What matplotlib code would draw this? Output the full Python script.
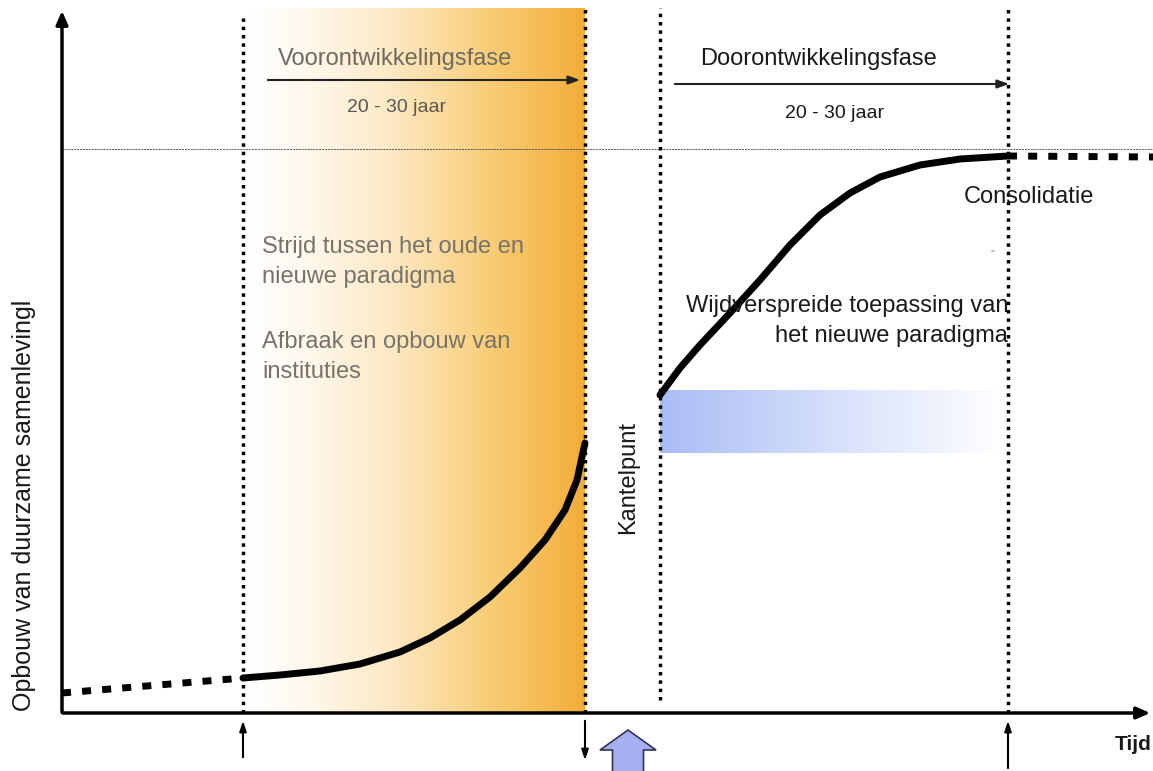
import numpy as np
import matplotlib
matplotlib.use("Agg")
import matplotlib.pyplot as plt
from matplotlib.colors import LinearSegmentedColormap

# coordinates are in picture units: x from left, y from bottom (0..771)
H = 771
fase_x = [243, 585, 660, 1008]          # dotted phase borders
plateau_y = H - 149

pre_x = [62, 243]
pre_y = [H - 693, H - 678]
rise1_x = [243, 280, 320, 360, 400, 430, 460, 490, 520, 545, 565, 577, 585]
rise1_y = [H - v for v in [678, 675, 671, 664, 652, 638, 620, 597, 568, 540, 510, 480, 443]]
rise2_x = [660, 680, 700, 730, 760, 790, 820, 850, 880, 920, 960, 1008]
rise2_y = [H - v for v in [395, 368, 345, 313, 280, 245, 215, 193, 177, 165, 159, 156]]
post_x = [1008, 1153]
post_y = [H - 156, H - 157]

plt.rcParams['font.family'] = ['Liberation Sans', 'DejaVu Sans']

fig = plt.figure(figsize=(11.53, 7.71), dpi=100)
ax = fig.add_axes([0, 0, 1, 1])
ax.set_xlim(0, 1153)
ax.set_ylim(0, H)
ax.axis('off')

# orange gradient band
orange = LinearSegmentedColormap.from_list("or", ["#ffffff", "#fde9c4", "#f9cc74", "#f2ad38"])
grad = np.linspace(0, 1, 256) ** 1.3
ax.imshow(grad[None, :], cmap=orange, aspect='auto', extent=(243, 585, H - 713, H - 8), zorder=0)

# blue gradient band
blue = LinearSegmentedColormap.from_list("bl", ["#a9bcf5", "#d6e0fb", "#ffffff"])
ax.imshow(np.linspace(0, 1, 256)[None, :], cmap=blue, aspect='auto', extent=(660, 1005, H - 453, H - 390), zorder=0)

# axes
ax.annotate("", xy=(62, H - 8), xytext=(62, H - 715),
            arrowprops=dict(arrowstyle="-|>,head_length=0.8,head_width=0.35", lw=2.5, color="black"))
ax.annotate("", xy=(1153, H - 713), xytext=(60, H - 713),
            arrowprops=dict(arrowstyle="-|>,head_length=0.8,head_width=0.35", lw=2.5, color="black"))

# plateau line
ax.plot([62, 1153], [plateau_y, plateau_y], color="#555555", lw=0.7, ls=(0, (2, 1)), zorder=1)

# phase borders
tops = [H - 18, H - 8, H - 8, H - 8]
bottoms = [H - 713, H - 713, H - 700, H - 713]
for x, t, b in zip(fase_x, tops, bottoms):
    ax.plot([x, x], [b, t], color="black", lw=2.5, ls=(0, (1, 1.4)), zorder=2)

# the curve
ax.plot(pre_x, pre_y, color="black", lw=5, ls=(0, (1.3, 1.6)), solid_capstyle='butt', zorder=3)
ax.plot(rise1_x, rise1_y, color="black", lw=5, solid_capstyle='round', zorder=3)
ax.plot(rise2_x, rise2_y, color="black", lw=5, solid_capstyle='round', zorder=3)
ax.plot(post_x, post_y, color="black", lw=5, ls=(0, (1.3, 1.6)), solid_capstyle='butt', zorder=3)

# phase arrows
ax.annotate("", xy=(583, H - 80), xytext=(265, H - 80),
            arrowprops=dict(arrowstyle="-|>,head_length=0.7,head_width=0.25", lw=1.5, color="#222222"))
ax.annotate("", xy=(1012, H - 84), xytext=(672, H - 84),
            arrowprops=dict(arrowstyle="-|>,head_length=0.7,head_width=0.25", lw=1.5, color="#222222"))

ax.text(395, H - 59, "Voorontwikkelingsfase", fontsize=17, color="#6e6a60", ha='center', va='center')
ax.text(397, H - 108, "20 - 30 jaar", fontsize=14, color="#5a5650", ha='center', va='center')
ax.text(818, H - 59, "Doorontwikkelingsfase", fontsize=17, color="#1a1a1a", ha='center', va='center')
ax.text(835, H - 113, "20 - 30 jaar", fontsize=14, color="#1a1a1a", ha='center', va='center')

ax.text(262, H - 262, "Strijd tussen het oude en\nnieuwe paradigma", fontsize=17, color="#77736b",
        ha='left', va='center', linespacing=1.45)
ax.text(262, H - 357, "Afbraak en opbouw van\ninstituties", fontsize=17, color="#77736b",
        ha='left', va='center', linespacing=1.45)

ax.text(1008, H - 321, "Wijdverspreide toepassing van\nhet nieuwe paradigma", fontsize=17, color="#1a1a1a",
        ha='right', va='center', linespacing=1.45)
ax.text(1029, H - 197, "Consolidatie", fontsize=17, color="#1a1a1a", ha='center', va='center')
ax.text(992, H - 255, "\u201d", fontsize=8, color="#777777", ha='center', va='center')
ax.text(628, H - 478, "Kantelpunt", fontsize=17, color="#1a1a1a", rotation=90, ha='center', va='center')
ax.text(24, H - 505, "Opbouw van duurzame samenlevingl", fontsize=18, color="#1a1a1a",
        rotation=90, ha='center', va='center')
ax.text(1133, H - 744, "Tijd", fontsize=15, fontweight='bold', color="#1a1a1a", ha='center', va='center')

# markers under the time axis
ax.annotate("", xy=(243, H - 718), xytext=(243, H - 760),
            arrowprops=dict(arrowstyle="-|>,head_length=0.6,head_width=0.2", lw=1.5, color="black"))
ax.annotate("", xy=(585, H - 763), xytext=(585, H - 718),
            arrowprops=dict(arrowstyle="-|>,head_length=0.6,head_width=0.2", lw=1.5, color="black"))
ax.annotate("", xy=(1008, H - 718), xytext=(1008, H - 771),
            arrowprops=dict(arrowstyle="-|>,head_length=0.6,head_width=0.2", lw=1.5, color="black"))
ax.arrow(628, H - 775, 0, 45, width=31, head_width=56, head_length=20, length_includes_head=True,
         facecolor="#a6b0f0", edgecolor="#333355", lw=1.2, zorder=4)

fig.savefig("out.png", dpi=100)
